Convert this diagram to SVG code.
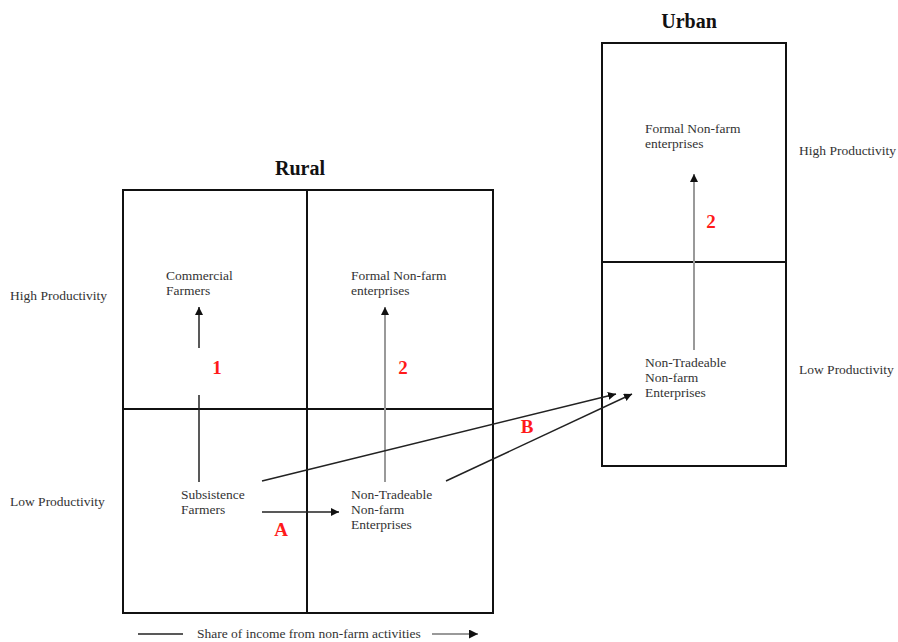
<svg xmlns="http://www.w3.org/2000/svg" width="898" height="642" viewBox="0 0 898 642">
  <style>
    .box { fill: none; stroke: #111; stroke-width: 2; }
    .grid { stroke: #111; stroke-width: 2; }
    .lbl { font-family: "Liberation Serif", "Times New Roman", serif; font-size: 13.5px; fill: #333; }
    .title { font-family: "Liberation Serif", "Times New Roman", serif; font-size: 20px; font-weight: bold; fill: #111; text-anchor: middle; }
    .tag { font-family: "Liberation Serif", "Times New Roman", serif; font-size: 19px; font-weight: bold; fill: #ff1a1a; text-anchor: middle; }
    .dark { stroke: #222; stroke-width: 1.5; fill: none; }
    .grey { stroke: #999; stroke-width: 2; fill: none; }
  </style>
  <defs>
    <marker id="headDark" viewBox="0 0 10 10" refX="10" refY="5" markerWidth="8" markerHeight="8" markerUnits="userSpaceOnUse" orient="auto">
      <path d="M0,0 L10,5 L0,10 z" fill="#111"/>
    </marker>
    <marker id="headArrow" viewBox="0 0 10 10" refX="10" refY="5" markerWidth="10" markerHeight="9" markerUnits="userSpaceOnUse" orient="auto">
      <path d="M0,0 L10,5 L0,10 z" fill="#111"/>
    </marker>
  </defs>

  <!-- Rural grid -->
  <g id="rural">
    <text class="title" x="300" y="175">Rural</text>
    <rect class="box" x="123" y="190" width="370" height="423"/>
    <line class="grid" x1="307" y1="190" x2="307" y2="613"/>
    <line class="grid" x1="123" y1="409" x2="493" y2="409"/>
  </g>

  <!-- Urban grid -->
  <g id="urban">
    <text class="title" x="689" y="28">Urban</text>
    <rect class="box" x="602" y="43" width="184" height="423"/>
    <line class="grid" x1="602" y1="262" x2="786" y2="262"/>
  </g>

  <!-- Row labels -->
  <g id="row-labels">
    <text class="lbl" x="10" y="300">High Productivity</text>
    <text class="lbl" x="10" y="506">Low Productivity</text>
    <text class="lbl" x="799" y="155">High Productivity</text>
    <text class="lbl" x="799" y="374">Low Productivity</text>
  </g>

  <g id="commercial-farmers">
    <text class="lbl" x="166" y="280">Commercial</text>
    <text class="lbl" x="166" y="295">Farmers</text>
  </g>
  <g id="rural-formal">
    <text class="lbl" x="351" y="280">Formal Non-farm</text>
    <text class="lbl" x="351" y="295">enterprises</text>
  </g>
  <g id="subsistence-farmers">
    <text class="lbl" x="181" y="499">Subsistence</text>
    <text class="lbl" x="181" y="514">Farmers</text>
  </g>
  <g id="rural-nontradeable">
    <text class="lbl" x="351" y="499">Non-Tradeable</text>
    <text class="lbl" x="351" y="514">Non-farm</text>
    <text class="lbl" x="351" y="529">Enterprises</text>
  </g>
  <g id="urban-formal">
    <text class="lbl" x="645" y="133">Formal Non-farm</text>
    <text class="lbl" x="645" y="148">enterprises</text>
  </g>
  <g id="urban-nontradeable">
    <text class="lbl" x="645" y="367">Non-Tradeable</text>
    <text class="lbl" x="645" y="382">Non-farm</text>
    <text class="lbl" x="645" y="397">Enterprises</text>
  </g>

  <!-- Connectors -->
  <g id="connectors">
    <line class="dark" x1="199" y1="482" x2="199" y2="395"/>
    <line class="dark" x1="199" y1="348" x2="199" y2="307" marker-end="url(#headDark)"/>
    <line class="grey" x1="385" y1="482" x2="385" y2="307" marker-end="url(#headDark)"/>
    <line class="dark" x1="262" y1="512" x2="339" y2="512" marker-end="url(#headDark)"/>
    <line class="dark" x1="262" y1="481" x2="616" y2="394" marker-end="url(#headDark)"/>
    <line class="dark" x1="446" y1="481" x2="632" y2="394" marker-end="url(#headDark)"/>
    <line class="grey" x1="694" y1="350" x2="694" y2="174" marker-end="url(#headDark)"/>
    <!-- axis arrow -->
    <line class="dark" x1="138" y1="634" x2="183" y2="634" stroke-width="2"/>
    <line class="grey" x1="432" y1="634" x2="478" y2="634" marker-end="url(#headArrow)"/>
  </g>

  <!-- Transition tags -->
  <g id="tags">
    <text class="tag" x="217" y="374">1</text>
    <text class="tag" x="403" y="374">2</text>
    <text class="tag" x="711" y="228">2</text>
    <text class="tag" x="281" y="536">A</text>
    <text class="tag" x="527" y="433">B</text>
  </g>

  <text class="lbl" x="197" y="638">Share of income from non-farm activities</text>
</svg>
